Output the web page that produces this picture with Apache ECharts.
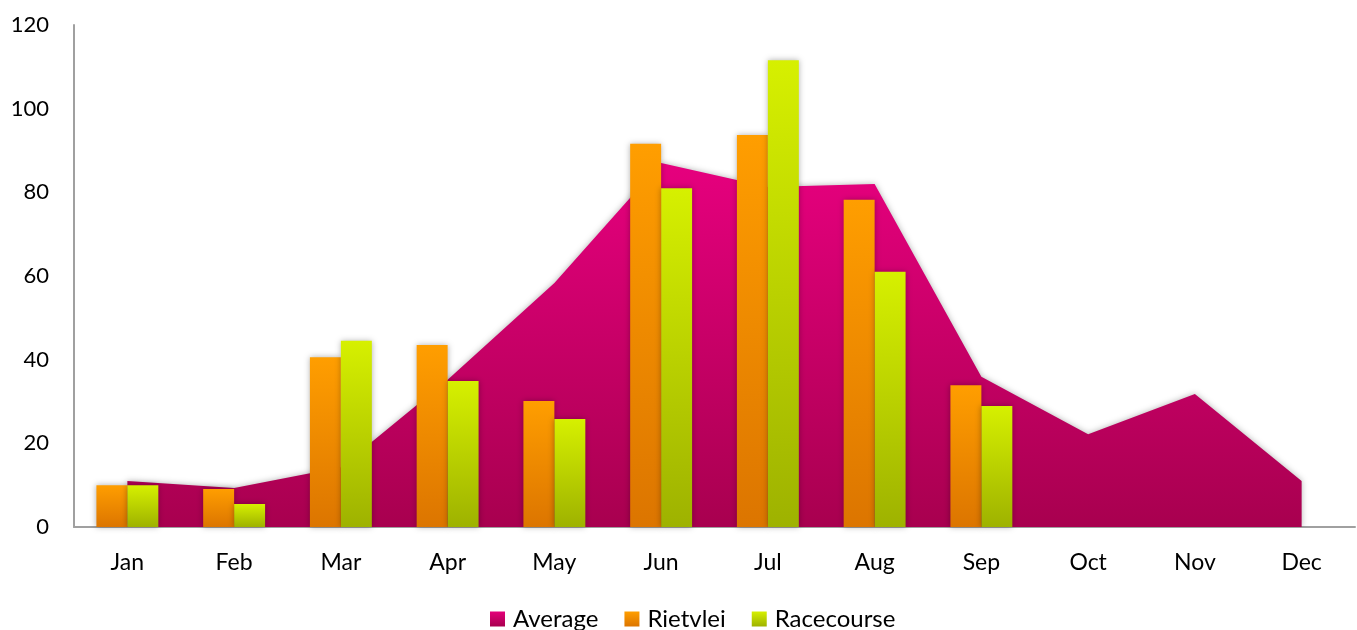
<!DOCTYPE html>
<html>
<head>
<meta charset="utf-8">
<script src="https://cdn.jsdelivr.net/npm/echarts@6/dist/echarts.min.js"></script>
<style>
html,body{margin:0;padding:0;background:#fff;}
#chart{width:1357px;height:630px;}
</style>
</head>
<body>
<div id="chart"></div>
<script>
var months = ['Jan','Feb','Mar','Apr','May','Jun','Jul','Aug','Sep','Oct','Nov','Dec'];
var average = [11.0, 9.3, 14.3, 35.2, 58.3, 87.0, 81.3, 82.0, 35.9, 22.2, 31.8, 11.0];
var rietvlei = [10.0, 9.1, 40.6, 43.5, 30.1, 91.6, 93.7, 78.2, 33.9, null, null, null];
var racecourse = [10.0, 5.5, 44.5, 34.9, 25.8, 81.0, 111.6, 61.0, 28.9, null, null, null];
var yTicks = {min: 0, max: 120, interval: 20};

function grad(top, bottom) {
  return new echarts.graphic.LinearGradient(0, 0, 0, 1, [
    {offset: 0, color: top}, {offset: 1, color: bottom}
  ]);
}
var FONT = 'Lato';
var chart = echarts.init(document.getElementById('chart'));
chart.setOption({
  animation: false,
  backgroundColor: '#ffffff',
  grid: {left: 74, right: 2, top: 25, bottom: 103},
  legend: {
    data: ['Average', 'Rietvlei', 'Racecourse'],
    left: 485,
    top: 602,
    icon: 'rect',
    itemWidth: 15,
    itemHeight: 15,
    itemGap: 26,
    textStyle: {fontFamily: FONT, fontSize: 24, color: '#000', padding: [0, 0, 0, 3]}
  },
  xAxis: {
    type: 'category',
    data: months,
    boundaryGap: true,
    axisLine: {lineStyle: {color: '#a0a0a0', width: 2}},
    axisTick: {show: false},
    axisLabel: {fontFamily: FONT, fontSize: 23, color: '#000', margin: 24}
  },
  yAxis: {
    type: 'value',
    min: yTicks.min, max: yTicks.max, interval: yTicks.interval,
    axisLine: {show: true, lineStyle: {color: '#a0a0a0', width: 2}},
    axisTick: {show: false},
    splitLine: {show: false},
    axisLabel: {fontFamily: FONT, fontSize: 22, color: '#000', margin: 25}
  },
  series: [
    {
      name: 'Average',
      type: 'line',
      data: average,
      z: 1,
      symbol: 'none',
      lineStyle: {width: 0},
      itemStyle: {color: grad('#e4007a', '#a8004f')},
      areaStyle: {
        color: grad('#e6007e', '#a8004f'),
        opacity: 1,
        shadowBlur: 6,
        shadowColor: 'rgba(0,0,0,0.3)'
      }
    },
    {
      name: 'Rietvlei',
      type: 'bar',
      data: rietvlei,
      z: 2,
      barGap: '0%',
      barCategoryGap: '42%',
      itemStyle: {
        color: grad('#ff9e00', '#dc7500'),
        shadowBlur: 6,
        shadowColor: 'rgba(0,0,0,0.3)'
      }
    },
    {
      name: 'Racecourse',
      type: 'bar',
      data: racecourse,
      z: 2,
      barGap: '0%',
      barCategoryGap: '42%',
      itemStyle: {
        color: grad('#d6f000', '#9eb200'),
        shadowBlur: 6,
        shadowColor: 'rgba(0,0,0,0.3)'
      }
    }
  ]
});
</script>
</body>
</html>
